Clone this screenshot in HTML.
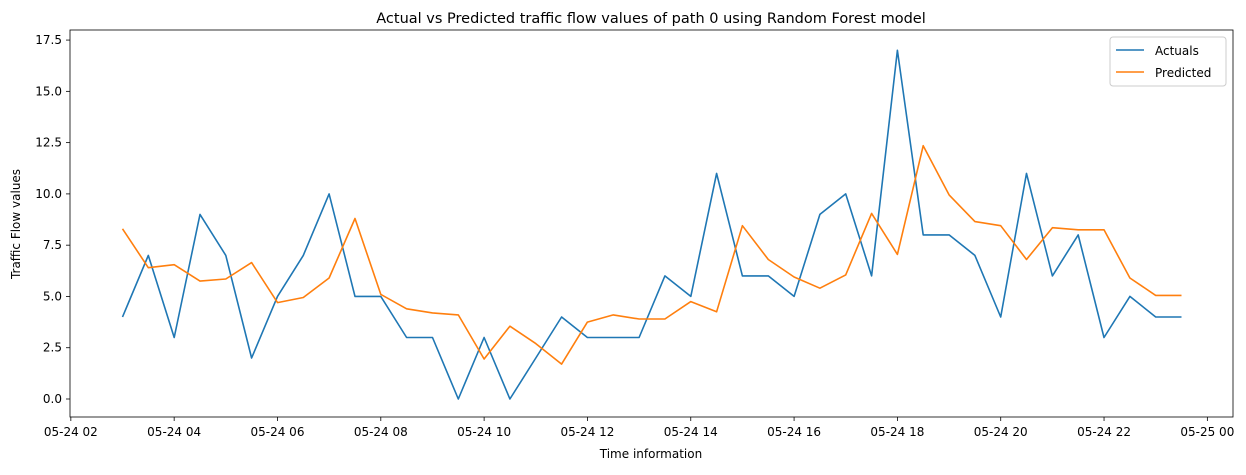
<!DOCTYPE html>
<html><head><meta charset="utf-8"><style>
body{margin:0;background:#fff;font-family:"Liberation Sans","DejaVu Sans",sans-serif;}
svg text{font-family:"DejaVu Sans","Liberation Sans",sans-serif;font-size:12px;fill:#000;}
</style></head><body>
<svg id="chart" width="1246" height="470" xmlns="http://www.w3.org/2000/svg">
<rect x="0" y="0" width="1246" height="470" fill="#fff"/>
<text x="651" y="23" text-anchor="middle" style="font-size:14.5px">Actual vs Predicted traffic flow values of path 0 using Random Forest model</text>
<g id="axes"></g>
<g id="series"></g>
<rect x="70" y="30" width="1163" height="387" fill="none" stroke="#000" stroke-width="0.8"/>
<text x="651" y="458" text-anchor="middle">Time information</text>
<text transform="translate(20,224) rotate(-90)" text-anchor="middle">Traffic Flow values</text>
<g>
<rect x="1110" y="37" width="116" height="49" rx="3" fill="#fff" stroke="#ccc" stroke-width="1"/>
<g><line x1="1116" y1="50" x2="1144" y2="50" stroke="#1f77b4" stroke-width="1.6"/><text x="1155" y="55">Actuals</text></g>
<g><line x1="1116" y1="72" x2="1144" y2="72" stroke="#ff7f0e" stroke-width="1.6"/><text x="1155" y="77">Predicted</text></g>
</g>
</svg>
<script>
const startHour = 3;
const stepHours = 0.5;
const actuals = [4,7,3,9,7,2,5,7,10,5,5,3,3,0,3,0,2,4,3,3,3,6,5,11,6,6,5,9,10,6,17,8,8,7,4,11,6,8,3,5,4,4];
const predicted = [8.3,6.4,6.55,5.75,5.85,6.65,4.7,4.95,5.9,8.8,5.1,4.4,4.2,4.1,1.95,3.55,2.7,1.7,3.75,4.1,3.9,3.9,4.75,4.25,8.45,6.8,5.95,5.4,6.05,9.05,7.05,12.35,9.95,8.65,8.45,6.8,8.35,8.25,8.25,5.9,5.05,5.05];
const xTickHours = [2,4,6,8,10,12,14,16,18,20,22,24];
const xTickLabels = ["05-24 02","05-24 04","05-24 06","05-24 08","05-24 10","05-24 12","05-24 14","05-24 16","05-24 18","05-24 20","05-24 22","05-25 00"];
const yTicks = [0,2.5,5,7.5,10,12.5,15,17.5];
const yTickLabels = ["0.0","2.5","5.0","7.5","10.0","12.5","15.0","17.5"];

const NS="http://www.w3.org/2000/svg";
function xs(h){return 122.5+(h-3)*51.66;}
function ys(v){return 399-v*20.51;}
const axes=document.getElementById('axes');
function mk(t,a,p){const e=document.createElementNS(NS,t);for(const k in a)e.setAttribute(k,a[k]);p.appendChild(e);return e;}
xTickHours.forEach((h,i)=>{
  const x=xs(h);
  const l=mk('line',{x1:x,y1:417,x2:x,y2:421,stroke:'#000','stroke-width':0.8},axes);
  
  
  const t=mk('text',{x:x,y:436,'text-anchor':'middle'},axes);t.textContent=xTickLabels[i];
  
  
});
yTicks.forEach((v,i)=>{
  const y=ys(v);
  const l=mk('line',{x1:66,y1:y,x2:70,y2:y,stroke:'#000','stroke-width':0.8},axes);
  
  
  const t=mk('text',{x:62,y:y+4,'text-anchor':'end'},axes);t.textContent=yTickLabels[i];
  
  
});
const g=document.getElementById('series');
function line(vals,color,name){
  const pts=vals.map((v,i)=>xs(startHour+i*stepHours).toFixed(1)+','+ys(v).toFixed(1)).join(' ');
  const p=mk('polyline',{points:pts,fill:'none',stroke:color,'stroke-width':1.6,'stroke-linejoin':'round'},g);
  
  
}
line(actuals,'#1f77b4','actuals-line');
line(predicted,'#ff7f0e','predicted-line');
</script>
</body></html>
